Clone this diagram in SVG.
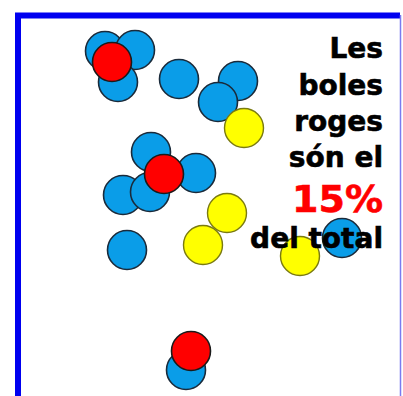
<svg xmlns="http://www.w3.org/2000/svg" width="403" height="396" viewBox="0 0 403 396">
<style>
.b{fill:#0a9de8;stroke:#1a2a3a;stroke-width:1.6}
.r{fill:#ff0000;stroke:#1a1a1a;stroke-width:1.6}
.y{fill:#ffff00;stroke:#7a7a10;stroke-width:1.4}
.t{font-family:"DejaVu Sans",Verdana,sans-serif;font-weight:bold;font-size:28px;text-anchor:end;fill:#000;stroke:#000;stroke-width:0.6}
</style>
<rect x="0" y="0" width="403" height="396" fill="#fff"/>
<path d="M18,396 V15.5 H400" fill="none" stroke="#0000f0" stroke-width="6"/>
<path d="M400.5,15 V396" fill="none" stroke="#7a7af0" stroke-width="1.5"/>
<g id="cluster1">
<circle class="b" cx="105" cy="51" r="19.5"/>
<circle class="b" cx="135" cy="50" r="19.5"/>
<circle class="b" cx="118" cy="82" r="19.5"/>
<circle class="r" cx="112" cy="62" r="19.5"/>
</g>
<g id="cluster2">
<circle class="b" cx="179" cy="79" r="19.5"/>
<circle class="b" cx="238" cy="81" r="19.5"/>
<circle class="b" cx="218" cy="102" r="19.5"/>
<circle class="y" cx="244" cy="128" r="19.5"/>
</g>
<g id="cluster3">
<circle class="b" cx="151" cy="152" r="19.5"/>
<circle class="b" cx="196" cy="173" r="19.5"/>
<circle class="b" cx="123" cy="195" r="19.5"/>
<circle class="b" cx="150" cy="192" r="19.5"/>
<circle class="r" cx="164" cy="174" r="19.5"/>
</g>
<g id="cluster4">
<circle class="y" cx="203" cy="245" r="19.5"/>
<circle class="y" cx="227" cy="213" r="19.5"/>
<circle class="b" cx="127" cy="250" r="19.5"/>
<circle class="b" cx="342" cy="238" r="19.5"/>
<circle class="y" cx="300" cy="256" r="19.5"/>
</g>
<g id="cluster5">
<circle class="b" cx="186" cy="370" r="19.5"/>
<circle class="r" cx="191" cy="351" r="19.5"/>
</g>
<g id="label">
<text class="t" x="383" y="58">Les</text>
<text class="t" x="383" y="95">boles</text>
<text class="t" x="383" y="131">roges</text>
<text class="t" x="383" y="167">són el</text>
<text class="t" x="383" y="212" style="font-size:38px;fill:#ff0000;stroke:#ff0000">15%</text>
<text class="t" x="383" y="248">del total</text>
</g>
</svg>
